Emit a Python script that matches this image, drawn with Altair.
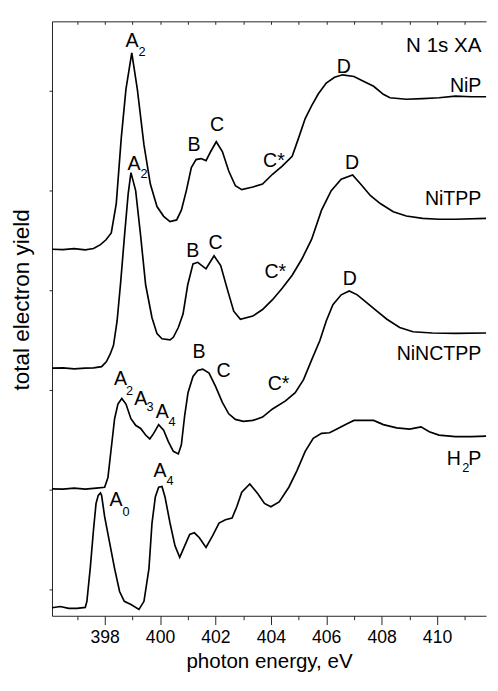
import altair as alt
import pandas as pd

FONT = "Liberation Sans"

# ---------------- spectra (photon energy in eV, total electron yield in arb. units, stacked) ----
nip_energy = [396.10, 396.50, 396.90, 397.30, 397.60, 397.85, 398.05, 398.24, 398.42, 398.60,
              398.77, 398.98, 399.18, 399.42, 399.65, 399.89, 400.13, 400.36, 400.60, 400.77,
              400.95, 401.13, 401.30, 401.48, 401.66, 401.83, 402.03, 402.25, 402.48, 402.72,
              402.95, 403.35, 403.70, 404.06, 404.41, 404.77, 405.00, 405.24, 405.47, 405.71,
              406.00, 406.30, 406.59, 407.00, 407.36, 407.71, 408.06, 408.30, 408.89, 409.48,
              410.07, 410.66, 411.24, 411.77]
nip_yield = [4.415, 4.412, 4.422, 4.409, 4.422, 4.461, 4.510, 4.578, 4.873, 5.529,
             6.020, 6.385, 6.020, 5.461, 5.069, 4.843, 4.745, 4.693, 4.709, 4.807,
             5.003, 5.235, 5.314, 5.324, 5.304, 5.395, 5.493, 5.395, 5.199, 5.052,
             5.013, 5.039, 5.069, 5.167, 5.248, 5.346, 5.529, 5.725, 5.853, 5.971,
             6.081, 6.140, 6.164, 6.147, 6.098, 6.049, 5.968, 5.934, 5.919, 5.925,
             5.934, 5.951, 5.944, 5.944]

nitpp_energy = [396.10, 396.50, 396.90, 397.30, 397.60, 397.89, 398.06, 398.20, 398.32, 398.45,
                398.58, 398.72, 398.85, 398.95, 399.12, 399.30, 399.48, 399.71, 399.89, 400.07,
                400.36, 400.48, 400.66, 400.83, 401.00, 401.19, 401.36, 401.66, 401.95, 402.19,
                402.42, 402.66, 402.90, 403.35, 403.70, 404.06, 404.41, 404.77, 405.12, 405.47,
                405.83, 406.18, 406.54, 406.95, 407.24, 407.59, 407.95, 408.42, 408.89, 409.48,
                410.07, 410.66, 411.77]
nitpp_yield = [3.223, 3.225, 3.216, 3.223, 3.225, 3.238, 3.287, 3.363, 3.451, 3.696,
               4.088, 4.559, 4.971, 5.183, 5.003, 4.549, 4.059, 3.728, 3.569, 3.517,
               3.507, 3.532, 3.630, 3.765, 4.059, 4.268, 4.284, 4.219, 4.350, 4.252,
               4.023, 3.794, 3.713, 3.745, 3.811, 3.909, 4.023, 4.154, 4.317, 4.513,
               4.807, 5.003, 5.118, 5.160, 5.069, 4.954, 4.873, 4.791, 4.748, 4.725,
               4.716, 4.716, 4.725]

nincptpp_energy = [396.10, 396.50, 396.90, 397.30, 397.70, 398.00, 398.12, 398.24, 398.36, 398.48,
                   398.62, 398.77, 398.95, 399.12, 399.30, 399.48, 399.63, 399.77, 399.95, 400.13,
                   400.30, 400.48, 400.66, 400.77, 400.89, 401.01, 401.19, 401.36, 401.54, 401.77,
                   402.00, 402.25, 402.48, 402.72, 403.01, 403.35, 403.70, 404.06, 404.53, 404.88,
                   405.18, 405.47, 405.77, 406.00, 406.24, 406.54, 406.83, 407.12, 407.48, 407.83,
                   408.19, 408.65, 409.13, 409.83, 410.66, 411.77]
nincptpp_yield = [2.013, 2.010, 2.020, 2.010, 2.020, 2.029, 2.127, 2.422, 2.716, 2.863,
                  2.919, 2.863, 2.716, 2.650, 2.618, 2.552, 2.513, 2.569, 2.657, 2.601,
                  2.487, 2.389, 2.363, 2.454, 2.748, 2.977, 3.140, 3.199, 3.213, 3.174,
                  3.042, 2.879, 2.765, 2.709, 2.689, 2.699, 2.732, 2.814, 2.895, 2.977,
                  3.108, 3.304, 3.500, 3.696, 3.860, 3.958, 3.997, 3.958, 3.875, 3.794,
                  3.713, 3.630, 3.588, 3.575, 3.571, 3.575]

h2p_energy = [396.10, 396.40, 396.70, 397.00, 397.30, 397.36, 397.48, 397.60, 397.69, 397.77,
              397.85, 397.89, 398.00, 398.18, 398.36, 398.54, 398.71, 398.95, 399.24, 399.42,
              399.60, 399.71, 399.83, 399.95, 400.07, 400.18, 400.36, 400.54, 400.71, 400.89,
              401.07, 401.24, 401.42, 401.66, 401.89, 402.13, 402.36, 402.60, 402.77, 402.95,
              403.24, 403.53, 403.77, 404.00, 404.30, 404.65, 404.94, 405.24, 405.53, 405.83,
              406.12, 406.42, 406.77, 407.00, 407.36, 407.71, 408.06, 408.54, 409.01, 409.42,
              409.72, 410.07, 410.66, 411.24, 411.77]
h2p_yield = [0.821, 0.833, 0.814, 0.814, 0.824, 0.885, 1.216, 1.608, 1.866, 1.948,
             1.971, 1.948, 1.735, 1.474, 1.213, 0.983, 0.885, 0.853, 0.804, 0.885,
             1.213, 1.670, 1.931, 2.029, 2.036, 1.931, 1.670, 1.441, 1.326, 1.441,
             1.556, 1.572, 1.523, 1.425, 1.539, 1.670, 1.703, 1.719, 1.833, 1.980,
             2.062, 1.964, 1.866, 1.833, 1.882, 2.029, 2.193, 2.389, 2.520, 2.569,
             2.575, 2.618, 2.667, 2.699, 2.699, 2.699, 2.657, 2.624, 2.611, 2.634,
             2.585, 2.552, 2.536, 2.536, 2.542]

# ---------------- annotations ----------------
peak_text = ["A", "B", "C", "C*", "D",
             "A", "B", "C", "C*", "D",
             "A", "A", "A", "B", "C", "C*", "D",
             "A", "A"]
peak_energy = [398.99, 401.23, 402.06, 404.11, 406.63,
               399.06, 401.18, 402.00, 404.16, 406.93,
               398.57, 399.30, 400.08, 401.41, 402.29, 404.28, 406.85,
               400.00, 398.41]
peak_value = [6.500, 5.461, 5.657, 5.297, 6.245,
              5.271, 4.399, 4.480, 4.186, 5.281,
              3.108, 2.912, 2.781, 3.385, 3.189, 3.059, 4.118,
              2.193, 1.899]

sub_text = ["2", "2", "2", "3", "4", "4", "0", "2"]
sub_energy = [399.35, 399.42, 398.90, 399.64, 400.43, 400.36, 398.77, 411.04]
sub_value = [6.388, 5.167, 2.993, 2.830, 2.683, 2.095, 1.784, 2.216]

name_text = ["NiP", "NiTPP", "NiNCTPP", "P"]
name_energy = [411.60, 411.60, 411.60, 411.60]
name_value = [6.049, 4.922, 3.363, 2.314]
name_h_text = ["H"]
name_h_energy = [410.86]
name_h_value = [2.314]

header_text = ["N 1s XA"]
header_energy = [411.60]
header_value = [6.451]

ytitle_text = ["total electron yield"]
ytitle_energy = [395.04]
ytitle_value = [3.907]

x_lo, x_hi = 396.1, 411.77
y_lo, y_hi = 0.74, 6.70
x_ticks = list(range(397, 412))
y_ticks = [1, 2, 3, 4, 5, 6]

# ---------------- tables ----------------
series = [("NiP", nip_energy, nip_yield), ("NiTPP", nitpp_energy, nitpp_yield),
          ("NiNCTPP", nincptpp_energy, nincptpp_yield), ("H2P", h2p_energy, h2p_yield)]
df = pd.concat([pd.DataFrame({"energy": e, "tey": y, "spectrum": n}) for n, e, y in series],
               ignore_index=True)
peaks = pd.DataFrame({"t": peak_text, "energy": peak_energy, "tey": peak_value})
subs = pd.DataFrame({"t": sub_text, "energy": sub_energy, "tey": sub_value})
names = pd.DataFrame({"t": name_text, "energy": name_energy, "tey": name_value})
names_h = pd.DataFrame({"t": name_h_text, "energy": name_h_energy, "tey": name_h_value})
header = pd.DataFrame({"t": header_text, "energy": header_energy, "tey": header_value})
ytitle = pd.DataFrame({"t": ytitle_text, "energy": ytitle_energy, "tey": ytitle_value})
axis_df = pd.DataFrame({"energy": [397.0, 411.0], "tey": [1.0, 1.0]})

x_scale = alt.Scale(domain=[x_lo, x_hi], nice=False, zero=False)
y_scale = alt.Scale(domain=[y_lo, y_hi], nice=False, zero=False)

y_enc = alt.Y("tey:Q", scale=y_scale,
              axis=alt.Axis(values=y_ticks, labels=False, tickSize=3, grid=False, domain=True,
                            title=None))

lines = alt.Chart(df).mark_line(color="black", strokeWidth=1.7).encode(
    x=alt.X("energy:Q", scale=x_scale,
            axis=alt.Axis(values=x_ticks, domain=True, grid=False,
                          tickSize={"condition": {"test": "datum.value % 2 === 0", "value": 9},
                                    "value": 4},
                          labelExpr="datum.value % 2 === 0 ? datum.label : ''",
                          labelOverlap=False, labelFont=FONT, labelFontSize=18,
                          labelPadding=4, format="d",
                          title="photon energy, eV", titleFont=FONT, titleFontSize=21,
                          titleFontWeight="normal", titlePadding=5)),
    y=y_enc, detail="spectrum:N",
)

top_line = alt.Chart(axis_df).mark_point(opacity=0).encode(
    x=alt.X("energy:Q", scale=x_scale,
            axis=alt.Axis(orient="top", labels=False, ticks=False, domain=True,
                          grid=False, title=None)),
    y=y_enc,
)

top_ticks = alt.Chart(axis_df).mark_point(opacity=0).encode(
    x=alt.X("energy:Q", scale=x_scale,
            axis=alt.Axis(orient="top", values=x_ticks, labels=False, domain=False,
                          tickSize=3, offset=-3, grid=False, title=None)),
    y=y_enc,
)


def text_layer(data, size, align="center", angle=0):
    return alt.Chart(data).mark_text(font=FONT, fontSize=size, color="black", align=align,
                                     baseline="middle", angle=angle).encode(
        x=alt.X("energy:Q", scale=x_scale, axis=None),
        y=y_enc,
        text="t:N",
    )


chart = alt.layer(
    lines, top_line, top_ticks,
    text_layer(peaks, 20),
    text_layer(subs, 13),
    text_layer(names, 20, "right"),
    text_layer(names_h, 20, "right"),
    text_layer(header, 21, "right"),
    text_layer(ytitle, 23, "center", 270),
).resolve_axis(x="independent").properties(
    width=444, height=608, padding={"left": 3, "top": 5, "right": 0, "bottom": 0}
).configure_view(stroke=None).configure_axis(
    tickColor="#222222", labelColor="black", titleColor="black", tickWidth=1,
    domainColor="#222222", domainWidth=1
)

chart.save("out.html", embed_options={"renderer": "svg", "actions": False})
